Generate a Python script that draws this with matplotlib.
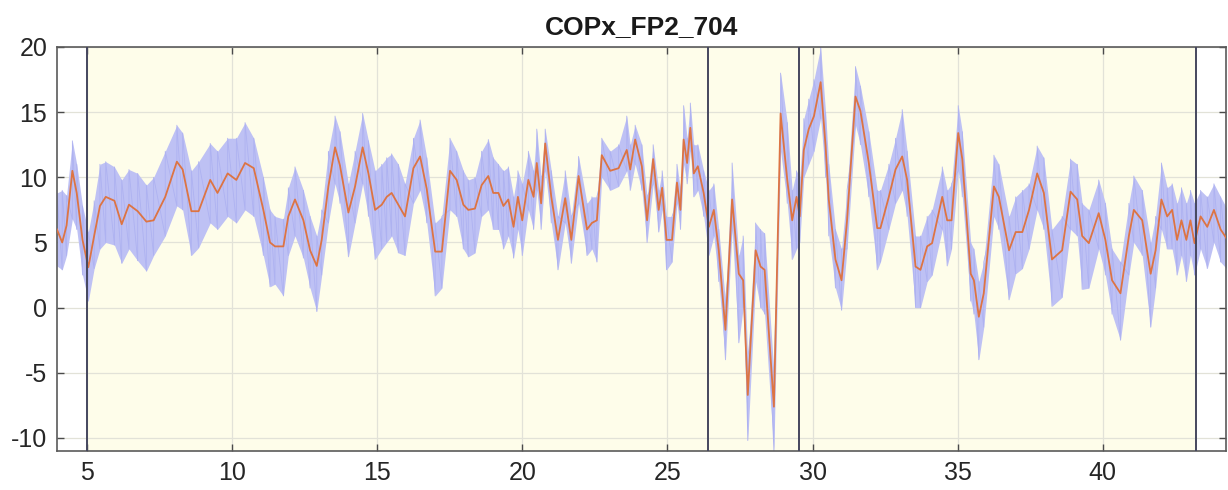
import numpy as np
import matplotlib
matplotlib.use("Agg")
import matplotlib.pyplot as plt

plt.rcParams["font.family"] = ["Liberation Sans", "DejaVu Sans"]
plt.rcParams["axes.unicode_minus"] = False

TITLE = "COPx_FP2_704"

# time (s), smoothed COPx, upper and lower edge of the raw signal
t = [3.97, 4.15, 4.3, 4.5, 4.65, 4.85, 5.05, 5.25, 5.45, 5.65, 5.95, 6.2, 6.45, 6.75, 7.05, 7.3,
     7.7, 8.1, 8.3, 8.6, 8.85, 9.25, 9.5, 9.85, 10.15, 10.45, 10.75, 11.08, 11.31, 11.48, 11.77,
     11.94, 12.17, 12.46, 12.69, 12.92, 13.09, 13.32, 13.55, 13.72, 14.01, 14.24, 14.5, 14.7,
     14.93, 15.16, 15.33, 15.5, 15.73, 15.96, 16.25, 16.48, 16.71, 17.0, 17.23, 17.51, 17.74,
     17.97, 18.14, 18.37, 18.6, 18.83, 19.0, 19.18, 19.35, 19.52, 19.7, 19.85, 20.0, 20.21,
     20.39, 20.5, 20.65, 20.79, 21.0, 21.23, 21.48, 21.69, 21.94, 22.23, 22.4, 22.57, 22.74,
     23.03, 23.32, 23.6, 23.72, 23.89, 24.12, 24.3, 24.51, 24.7, 24.82, 24.97, 25.16, 25.33,
     25.45, 25.56, 25.68, 25.79, 25.91, 26.05, 26.25, 26.43, 26.6, 26.77, 27.0, 27.23, 27.46,
     27.61, 27.77, 28.04, 28.21, 28.35, 28.67, 28.9, 29.13, 29.3, 29.45, 29.56, 29.7, 29.87,
     30.05, 30.28, 30.45, 30.56, 30.79, 31.0, 31.19, 31.48, 31.65, 31.94, 32.23, 32.34, 32.63,
     32.86, 33.09, 33.26, 33.55, 33.72, 33.95, 34.12, 34.47, 34.64, 34.79, 35.02, 35.16, 35.45,
     35.56, 35.73, 35.9, 36.25, 36.42, 36.77, 37.0, 37.23, 37.46, 37.74, 37.97, 38.25, 38.6,
     38.89, 39.12, 39.29, 39.52, 39.86, 40.09, 40.32, 40.61, 40.9, 41.07, 41.36, 41.65, 41.82,
     42.02, 42.22, 42.39, 42.56, 42.71, 42.88, 43.02, 43.16, 43.37, 43.6, 43.83, 44.06, 44.3]

copx_smooth = [6.0, 5.0, 6.3, 10.5, 8.8, 5.2, 3.1, 5.5, 7.8, 8.5, 8.2, 6.4, 7.9, 7.4, 6.6, 6.7,
               8.5, 11.2, 10.6, 7.4, 7.4, 9.8, 8.8, 10.3, 9.8, 11.1, 10.7, 7.5, 5.0, 4.7, 4.7,
               7.0, 8.3, 6.7, 4.4, 3.2, 5.2, 9.3, 12.3, 10.9, 7.3, 9.3, 12.3, 10.3,
               7.5, 7.9, 8.5, 8.8, 7.9, 7.0, 10.7, 11.6, 9.1, 4.3, 4.3, 10.5, 9.8,
               7.9, 7.5, 7.6, 9.4, 10.1, 8.8, 8.8, 7.8, 8.3, 6.2, 8.5, 6.7, 9.8,
               8.5, 11.1, 8.0, 12.6, 8.5, 5.2, 8.4, 5.2, 10.1, 6.0, 6.5, 6.7, 11.7,
               10.5, 10.7, 12.1, 10.6, 12.9, 10.85, 6.7, 11.4, 7.5, 9.2, 5.2, 5.2, 9.6,
               7.5, 12.9, 11.1, 13.8, 10.3, 10.85, 8.8, 6.2, 7.5, 4.4, -1.7, 8.3, 2.6,
               2.1, -6.7, 4.4, 3.15, 2.9, -7.6, 14.9, 9.8, 6.7, 8.5, 7.0, 12.1, 13.7,
               14.7, 17.3, 12.4, 8.3, 3.7, 2.1, 6.7, 16.2, 15.1, 11.1, 6.1, 6.1, 8.5,
               10.6, 11.6, 9.8, 3.15, 2.9, 4.7, 4.95, 8.5, 6.7, 6.7, 13.4, 11.4, 2.6,
               2.1, -0.7, 1.1, 9.3, 8.5, 4.4, 5.8, 5.8, 7.5, 10.3, 8.8, 3.7, 4.4,
               8.9, 8.3, 5.5, 4.95, 7.25, 5.2, 2.1, 1.1, 5.5, 7.5, 6.7, 2.6, 4.4,
               8.3, 7.0, 7.5, 5.2, 6.7, 5.2, 6.7, 4.95, 7.0, 6.2, 7.5, 6.0, 5.2]

copx_hi = [8.8, 9.0, 8.6, 12.8, 11.0, 7.8, 5.8, 8.2, 11.0, 11.2, 10.8, 9.8, 10.6, 10.3, 9.4, 10.0,
           12.0, 14.0, 13.4, 10.5, 11.2, 12.6, 12.0, 13.0, 13.0, 14.2, 13.0, 10.0, 7.5, 7.0, 6.8,
           9.2, 10.8, 9.0, 7.0, 5.5, 7.5, 12.0, 14.7, 13.5, 9.5, 12.0, 14.9, 12.8,
           10.5, 11.0, 11.5, 11.8, 11.0, 9.5, 13.0, 14.4, 11.5, 6.5, 7.0, 13.0, 12.0,
           10.5, 9.8, 10.0, 12.0, 12.9, 11.5, 11.0, 10.5, 10.8, 8.5, 10.5, 9.5, 12.0,
           10.5, 13.7, 10.0, 13.7, 10.5, 7.0, 10.5, 7.0, 11.6, 8.0, 8.5, 8.5, 13.0,
           12.0, 12.5, 14.7, 12.5, 14.0, 12.5, 8.5, 12.5, 9.0, 10.5, 7.0, 7.0, 11.0,
           9.0, 15.5, 13.0, 15.7, 12.5, 12.5, 10.5, 9.0, 9.5, 6.0, 0.5, 11.1, 4.0,
           5.5, -4.0, 6.5, 6.0, 5.7, -5.0, 18.0, 14.2, 9.0, 10.5, 10.0, 14.5, 16.0,
           17.5, 20.0, 15.0, 11.0, 6.0, 4.5, 9.0, 18.5, 17.0, 13.5, 9.0, 9.0, 11.0,
           13.0, 15.2, 12.0, 5.5, 5.5, 7.0, 7.5, 10.8, 9.0, 9.5, 15.5, 13.5, 5.0,
           4.5, 2.0, 3.5, 11.7, 11.0, 7.0, 8.5, 9.0, 9.5, 12.4, 11.5, 6.0, 7.0,
           11.4, 11.0, 8.0, 7.5, 9.8, 8.0, 4.5, 3.5, 8.0, 10.1, 9.0, 5.0, 7.0,
           11.1, 9.2, 9.5, 8.0, 9.2, 8.0, 9.0, 8.0, 9.0, 8.5, 9.5, 8.5, 7.5]

copx_lo = [3.2, 2.9, 4.0, 6.8, 6.0, 2.5, 0.5, 3.0, 4.5, 5.0, 4.8, 3.4, 4.5, 3.6, 2.8, 4.0,
           5.5, 7.8, 7.5, 4.0, 4.6, 6.5, 6.0, 7.0, 6.5, 7.5, 7.0, 4.0, 1.6, 1.8, 0.9,
           4.0, 5.5, 3.8, 1.5, -0.3, 2.5, 6.5, 9.5, 8.0, 3.9, 6.5, 9.5, 7.0,
           3.7, 4.5, 5.0, 5.5, 4.2, 4.0, 8.0, 9.0, 6.5, 0.9, 1.5, 7.5, 7.0,
           4.5, 3.9, 4.2, 7.0, 7.5, 6.0, 6.0, 4.5, 5.5, 3.8, 6.0, 4.0, 7.5,
           6.0, 9.0, 6.0, 10.5, 6.5, 2.9, 6.5, 3.4, 8.0, 4.0, 4.5, 3.5, 10.0,
           9.0, 9.3, 10.5, 9.0, 11.0, 9.0, 5.0, 9.5, 5.8, 7.5, 2.9, 3.5, 8.0,
           6.0, 11.0, 9.5, 12.0, 8.5, 9.0, 7.0, 4.0, 5.5, 2.0, -4.0, 6.0, -2.7,
           0.0, -10.2, 2.0, 0.0, -0.5, -11.0, 12.0, 8.0, 3.7, 4.5, 5.0, 10.0, 11.0,
           12.0, 14.5, 10.0, 5.5, 1.5, -0.2, 4.5, 14.0, 12.5, 8.5, 2.9, 3.5, 6.0,
           8.0, 9.0, 7.0, 0.0, 0.0, 2.0, 2.5, 6.0, 3.2, 4.5, 10.5, 8.5, 0.5,
           -0.5, -4.0, -1.5, 7.0, 6.0, 0.6, 2.6, 3.0, 4.5, 7.5, 6.0, 0.1, 0.8,
           6.0, 5.5, 1.4, 1.5, 4.5, 2.5, -0.5, -2.5, 2.5, 5.0, 4.0, -1.5, 1.5,
           6.0, 4.5, 4.5, 2.5, 4.0, 2.0, 4.0, 2.5, 4.5, 3.0, 5.0, 3.5, 2.9]

# event markers (s); the trial window between the first and last is shaded
event_times = [5.0, 26.4, 29.55, 43.22]

xlim = (3.97, 44.23)
ylim = (-11, 20)
xticks = [5, 10, 15, 20, 25, 30, 35, 40]
yticks = [-10, -5, 0, 5, 10, 15, 20]

t = np.array(t)
lo = np.array(copx_lo)
hi = np.array(copx_hi)

fig = plt.figure(figsize=(12.28, 4.9), dpi=100)
ax = fig.add_axes([0.0464, 0.0796, 0.9516, 0.8245])

ax.axvspan(event_times[0], event_times[-1], facecolor="#fefdea", edgecolor="none", zorder=0)
ax.grid(True, color="#e2e2d8", linewidth=0.9, zorder=1)
ax.set_axisbelow(True)

# raw signal band
ax.fill_between(t, lo, hi, color="#bec1f4", linewidth=0, zorder=2)
zig_x = np.repeat(t, 2)
zig_y = np.column_stack([lo, hi]).ravel()
ax.plot(zig_x, zig_y, color="#aeb2f1", linewidth=0.6, zorder=2)

# smoothed signal
ax.plot(t, copx_smooth, color="#dd7443", linewidth=1.3, zorder=3)

for ev in event_times:
    ax.axvline(ev, color="#45475e", linewidth=1.4, zorder=4)

ax.set_xlim(*xlim)
ax.set_ylim(*ylim)
ax.set_xticks(xticks)
ax.set_yticks(yticks)
ax.tick_params(direction="in", length=5, width=1, colors="#4a4a4a", labelsize=18,
               labelcolor="#262626", top=True, right=True, pad=7)
for sp in ax.spines.values():
    sp.set_color("#5a5a5a")
    sp.set_linewidth(1.2)

ax.set_title(TITLE, fontsize=19, fontweight="bold", color="#1a1a1a", pad=9)

fig.savefig("out.png", dpi=100, facecolor="white")
